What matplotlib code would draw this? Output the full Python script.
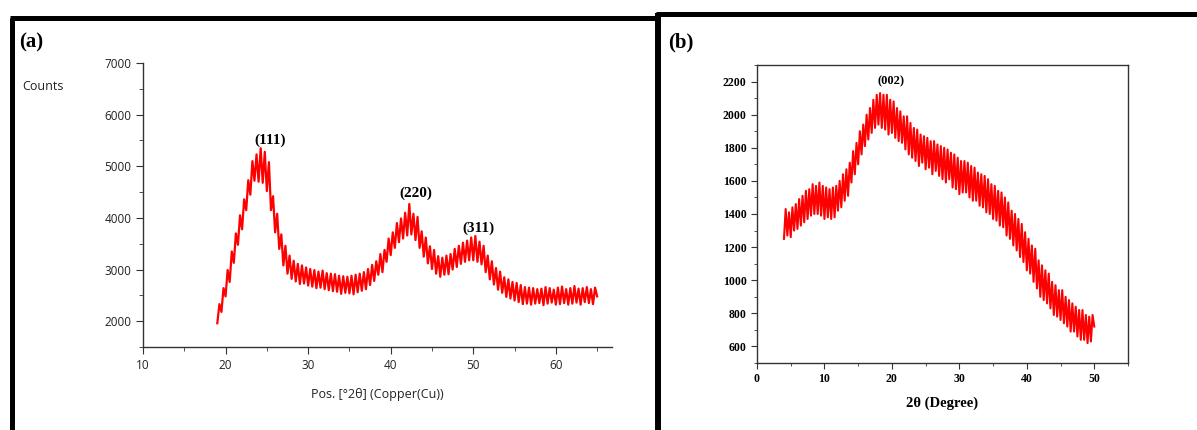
import numpy as np
import matplotlib.pyplot as plt
from matplotlib.lines import Line2D
from matplotlib.ticker import MultipleLocator

# (a) XRD counts, every 0.25 deg from 19 to 65
counts_a = [
    1960, 2330, 2180, 2640,
    2480, 2990, 2760, 3350,
    3130, 3700, 3480, 4050,
    3780, 4360, 4150, 4730,
    4450, 5100, 4720, 5230,
    4700, 5350, 4680, 5280,
    4520, 5080, 4150, 4420,
    3720, 4080, 3400, 3680,
    3080, 3460, 2920, 3270,
    2820, 3170, 2770, 3110,
    2720, 3080, 2730, 3040,
    2690, 3010, 2670, 2990,
    2640, 2960, 2650, 2980,
    2620, 2930, 2600, 2920,
    2580, 2910, 2570, 2880,
    2530, 2870, 2550, 2860,
    2540, 2880, 2520, 2900,
    2560, 2920, 2590, 2950,
    2620, 3010, 2700, 3090,
    2780, 3160, 2900, 3300,
    2950, 3380, 3150, 3600,
    3280, 3720, 3420, 3900,
    3530, 3990, 3600, 4100,
    3660, 4270, 3680, 4080,
    3570, 4020, 3420, 3740,
    3250, 3620, 3120, 3450,
    3010, 3380, 2920, 3260,
    2860, 3230, 2900, 3270,
    2910, 3300, 3000, 3400,
    3050, 3460, 3110, 3520,
    3150, 3560, 3180, 3620,
    3180, 3650, 3150, 3540,
    3100, 3460, 2950, 3270,
    2810, 3160, 2710, 3030,
    2610, 2960, 2550, 2850,
    2470, 2810, 2440, 2760,
    2400, 2740, 2370, 2700,
    2330, 2660, 2340, 2650,
    2320, 2640, 2340, 2620,
    2350, 2630, 2310, 2660,
    2340, 2640, 2360, 2610,
    2320, 2650, 2330, 2670,
    2350, 2620, 2320, 2640,
    2340, 2680, 2360, 2630,
    2320, 2640, 2370, 2660,
    2350, 2620, 2330, 2650,
    2480,
]
peaks_a = ["(111)", "(220)", "(311)"]
peak_pos_a = [(25.4, 5500), (43.0, 4470), (50.6, 3790)]

# (b) intensity every 0.25 deg from 4 to 50
counts_b = [
    1250, 1430, 1270, 1410,
    1260, 1440, 1300, 1460,
    1310, 1490, 1330, 1510,
    1350, 1540, 1370, 1550,
    1390, 1580, 1400, 1570,
    1400, 1590, 1390, 1570,
    1370, 1560, 1380, 1550,
    1370, 1560, 1380, 1570,
    1420, 1600, 1440, 1640,
    1480, 1670, 1510, 1710,
    1590, 1780, 1640, 1830,
    1700, 1900, 1760, 1940,
    1810, 2000, 1850, 2040,
    1890, 2090, 1920, 2120,
    1940, 2130, 1920, 2120,
    1910, 2120, 1880, 2090,
    1890, 2080, 1860, 2040,
    1840, 2020, 1830, 1990,
    1790, 1990, 1760, 1950,
    1740, 1920, 1720, 1910,
    1690, 1880, 1710, 1870,
    1670, 1860, 1680, 1840,
    1640, 1840, 1660, 1820,
    1630, 1810, 1610, 1800,
    1590, 1790, 1610, 1770,
    1560, 1760, 1550, 1740,
    1520, 1720, 1530, 1720,
    1530, 1710, 1500, 1690,
    1480, 1680, 1480, 1650,
    1450, 1640, 1440, 1630,
    1410, 1610, 1400, 1580,
    1370, 1570, 1360, 1540,
    1330, 1530, 1320, 1500,
    1270, 1470, 1250, 1420,
    1210, 1400, 1180, 1370,
    1140, 1340, 1110, 1290,
    1060, 1250, 1040, 1210,
    990, 1190, 950, 1120,
    900, 1090, 880, 1060,
    860, 1040, 830, 990,
    790, 970, 780, 940,
    760, 940, 740, 900,
    720, 880, 690, 860,
    690, 840, 660, 820,
    640, 820, 640, 790,
    620, 780, 630, 790,
    720,
]

x_a = 19 + 0.25 * np.arange(len(counts_a))
x_b = 4 + 0.25 * np.arange(len(counts_b))

W, H = 1197, 430
fig = plt.figure(figsize=(W / 100, H / 100), dpi=100)

def px(x, y):
    return x / W, 1 - y / H

serif = ["Liberation Serif", "DejaVu Serif"]
grey = "#333333"

# ---- panel (a)
ax1 = fig.add_axes([143 / W, 1 - 347 / H, 469 / W, 284 / H])
ax1.plot(x_a, counts_a, color="#ff0000", lw=1.6)
ax1.set_xlim(10, 66.8)
ax1.set_ylim(1500, 7000)
ax1.spines[["top", "right"]].set_visible(False)
for s in ["left", "bottom"]:
    ax1.spines[s].set_color(grey)
    ax1.spines[s].set_linewidth(1.0)
ax1.xaxis.set_major_locator(MultipleLocator(10))
ax1.xaxis.set_minor_locator(MultipleLocator(5))
ax1.set_yticks([2000, 3000, 4000, 5000, 6000, 7000])
ax1.yaxis.set_minor_locator(MultipleLocator(500))
ax1.tick_params(which="both", colors=grey, labelcolor="#222222", labelsize=8.5)
ax1.tick_params(which="major", length=5)
ax1.tick_params(which="minor", length=3)
for lab in ax1.get_xticklabels() + ax1.get_yticklabels():
    lab.set_family("Open Sans")
ax1.set_xlabel("Pos. [°2θ] (Copper(Cu))", family="Open Sans", fontsize=9,
               color="#222222", labelpad=12)
fig.text(*px(22, 87), "Counts", family="Open Sans", fontsize=9,
         color="#222222", va="center", ha="left")
for lab, (xp, yp) in zip(peaks_a, peak_pos_a):
    ax1.text(xp, yp, lab, family=serif, fontweight="bold", fontsize=11,
             ha="center", va="center")

# ---- panel (b)
ax2 = fig.add_axes([757 / W, 1 - 363 / H, 371 / W, 298 / H])
ax2.plot(x_b, counts_b, color="#ff0000", lw=1.5)
ax2.set_xlim(0, 55)
ax2.set_ylim(500, 2300)
ax2.xaxis.set_major_locator(MultipleLocator(10))
ax2.xaxis.set_minor_locator(MultipleLocator(5))
ax2.set_yticks(range(600, 2201, 200))
ax2.yaxis.set_minor_locator(MultipleLocator(100))
for s in ax2.spines.values():
    s.set_color(grey)
    s.set_linewidth(1.0)
ax2.tick_params(which="both", colors=grey, labelcolor="black", labelsize=8.5)
ax2.tick_params(which="major", length=4)
ax2.tick_params(which="minor", length=2)
for lab in ax2.get_xticklabels() + ax2.get_yticklabels():
    lab.set_family(serif)
    lab.set_fontweight("bold")
ax2.set_xlabel("2θ (Degree)", family=serif, fontweight="bold", fontsize=10.5,
               labelpad=8)
ax2.text(19.9, 2200, "(002)", family=serif, fontweight="bold", fontsize=9,
         ha="center", va="center")

# panel letters
fig.text(*px(19, 42), "(a)", family=serif, fontweight="bold", fontsize=15,
         va="center", ha="left")
fig.text(*px(668, 42), "(b)", family=serif, fontweight="bold", fontsize=15,
         va="center", ha="left")

# black frames around the panels
frames = [
    ([10, 657], [17.5, 17.5], 3.6),
    ([11.5, 11.5], [17.5, 430], 3.6),
    ([656, 1197], [13.5, 13.5], 3.6),
    ([658, 658], [13, 430], 4.3),
]
for xs, ys, lw in frames:
    fig.add_artist(Line2D([x / W for x in xs], [1 - y / H for y in ys],
                          color="black", lw=lw, solid_capstyle="butt"))

fig.savefig("out.png", dpi=100)
